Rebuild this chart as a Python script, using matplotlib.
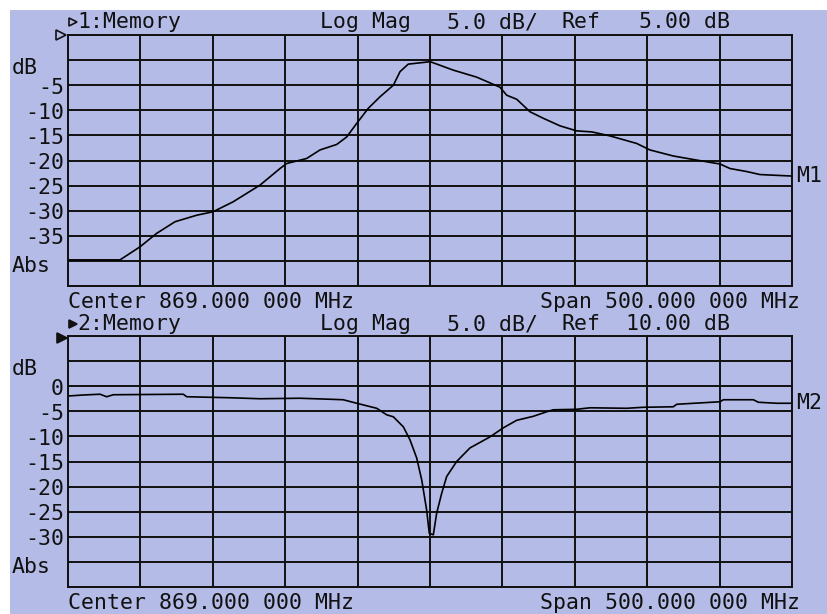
import numpy as np
import matplotlib
matplotlib.use('Agg')
import matplotlib.pyplot as plt
from matplotlib.transforms import blended_transform_factory

# Sweep settings (MHz)
center_mhz = 869.0
span_mhz = 500.0

# Channel 1 memory trace: frequency (MHz) and magnitude (dB)
freq1 = [619, 654.9, 668.7, 680.3, 692.9, 707.9, 719.3, 733.2, 751.6, 765.4,
         770.0, 783.8, 793.0, 804.6, 811.5, 818.4, 826.4, 834.5, 843.7, 848.3,
         854.0, 866.7, 869.0, 885.1, 901.3, 917.3, 922.0, 928.9, 938.1, 947.3,
         958.8, 970.3, 980.7, 993.3, 1011.7, 1020.9, 1037.0, 1050.8, 1069.3, 1076.2,
         1087.7, 1096.9, 1119]
mag1 = [-39.8, -39.8, -37.2, -34.5, -32.2, -30.9, -30.2, -28.2, -24.9, -21.6,
        -20.6, -19.6, -17.9, -16.8, -15.3, -12.6, -9.6, -7.3, -5.0, -2.3,
        -0.8, -0.4, -0.3, -2.0, -3.4, -5.4, -7.0, -7.8, -10.3, -11.6,
        -13.1, -14.1, -14.3, -15.1, -16.6, -17.9, -19.1, -19.8, -20.7, -21.6,
        -22.2, -22.8, -23.1]

# Channel 2 memory trace
freq2 = [619.2, 629.6, 641.1, 645.7, 650.3, 698.6, 701.0, 730.9, 751.6, 779.2,
         799.9, 809.1, 818.4, 832.2, 839.1, 843.7, 850.6, 855.2, 859.8, 863.3,
         866.7, 868.5, 871.3, 873.6, 877.1, 880.5, 887.4, 896.6, 910.4, 919.6,
         928.8, 940.3, 949.5, 954.1, 970.3, 979.5, 1004.8, 1016.3, 1037.0, 1039.4,
         1069.3, 1071.6, 1092.3, 1095.8, 1108.5, 1118.8]
mag2 = [-1.95, -1.75, -1.6, -2.1, -1.7, -1.6, -2.1, -2.3, -2.5, -2.4,
        -2.6, -2.7, -3.4, -4.4, -5.7, -6.1, -8.1, -10.7, -14.3, -18.7,
        -24.7, -29.3, -29.6, -25.3, -21.3, -18.0, -15.0, -12.3, -10.1, -8.3,
        -6.8, -6.0, -5.1, -4.7, -4.6, -4.3, -4.4, -4.2, -4.1, -3.6,
        -3.1, -2.7, -2.7, -3.2, -3.4, -3.4]

# Per-channel scale settings
ref1, ref2 = 5.0, 10.0
scale_db = 5.0
ylabels1 = {0: 'dB', -5: '-5', -10: '-10', -15: '-15', -20: '-20',
            -25: '-25', -30: '-30', -35: '-35', -40: 'Abs'}
ylabels2 = {5: 'dB', 0: '0', -5: '-5', -10: '-10', -15: '-15',
            -20: '-20', -25: '-25', -30: '-30', -35: 'Abs'}

BG = '#b4bbe6'
INK = '#111111'
FONT = 'DejaVu Sans Mono'
FS = 15.5


def setup_panel(ax, ref):
    start = center_mhz - span_mhz / 2
    stop = center_mhz + span_mhz / 2
    ax.set_xlim(start, stop)
    ax.set_ylim(ref - 10 * scale_db, ref)
    ax.set_xticks(np.linspace(start, stop, 11))
    ax.set_yticks(np.arange(ref - 10 * scale_db, ref + 1, scale_db))
    ax.grid(True, color=INK, lw=1.4)
    ax.tick_params(length=0, labelbottom=False, labelleft=False)
    ax.set_facecolor('none')
    for s in ax.spines.values():
        s.set_color(INK)
        s.set_linewidth(1.4)


def draw_ylabels(fig, ax, labels):
    tr = blended_transform_factory(fig.transFigure, ax.transData)
    for val, txt in labels.items():
        if txt in ('dB', 'Abs'):
            off = 2.8 if txt == 'dB' else 2.3
            ax.text(12 / 828, val - off, txt, transform=tr, ha='left', va='baseline',
                    family=FONT, fontsize=FS, color=INK)
        else:
            ax.text(64 / 828, val - 1.7, txt, transform=tr, ha='right', va='baseline',
                    family=FONT, fontsize=FS, color=INK)


def draw_header(ov, y_base, chan, ref_text, filled):
    kw = dict(family=FONT, fontsize=FS, color=INK, va='baseline', ha='left')
    ov.plot([73], [y_base - 6], marker='>', ms=6, mec=INK, mew=1.2,
            mfc=INK if filled else 'none', clip_on=False)
    ov.text(77, y_base, f'{chan}:Memory', **kw)
    ov.text(320, y_base, 'Log Mag', **kw)
    ov.text(447, y_base, f'{scale_db:.1f} dB/', **kw)
    ov.text(562, y_base, 'Ref', **kw)
    ov.text(730, y_base, ref_text, family=FONT, fontsize=FS, color=INK,
            va='baseline', ha='right')


def draw_footer(ov, y_base):
    kw = dict(family=FONT, fontsize=FS, color=INK, va='baseline')
    ov.text(68, y_base, f'Center {center_mhz:.3f} 000 MHz', ha='left', **kw)
    ov.text(800, y_base, f'Span {span_mhz:.3f} 000 MHz', ha='right', **kw)


def main(output_file='out.png'):
    fig = plt.figure(figsize=(8.28, 6.14), dpi=100, facecolor='white')

    # Full-figure overlay in pixel units for the screen background and annotations
    ov = fig.add_axes([0, 0, 1, 1], zorder=0)
    ov.set_xlim(0, 828)
    ov.set_ylim(614, 0)
    ov.axis('off')
    ov.add_patch(plt.Rectangle((10, 10), 818, 604, color=BG, lw=0))

    ax1 = fig.add_axes([68 / 828, 1 - 286 / 614, 724 / 828, 251 / 614], zorder=1)
    ax2 = fig.add_axes([68 / 828, 1 - 587 / 614, 724 / 828, 251 / 614], zorder=1)

    setup_panel(ax1, ref1)
    setup_panel(ax2, ref2)

    ax1.plot(freq1, mag1, color='black', lw=1.2, clip_on=False)
    ax2.plot(freq2, mag2, color='black', lw=1.2, clip_on=False)

    draw_ylabels(fig, ax1, ylabels1)
    draw_ylabels(fig, ax2, ylabels2)

    # Marker labels at the end of each trace
    ax1.annotate('M1', (freq1[-1], mag1[-1]), xytext=(3, 0), textcoords='offset points',
                 va='center', ha='left', family=FONT, fontsize=FS, color=INK,
                 annotation_clip=False)
    ax2.annotate('M2', (freq2[-1], mag2[-1]), xytext=(3, 0), textcoords='offset points',
                 va='center', ha='left', family=FONT, fontsize=FS, color=INK,
                 annotation_clip=False)

    # Reference position arrows at the left edge
    ov.plot([61], [35], marker='>', ms=7, mec=INK, mfc='none', mew=1.2)
    ov.plot([62], [338], marker='>', ms=7, mec=INK, mfc=INK, mew=1.2)

    draw_header(ov, 28, 1, f'{ref1:.2f} dB', filled=False)
    draw_header(ov, 330, 2, f'{ref2:.2f} dB', filled=True)
    draw_footer(ov, 308)
    draw_footer(ov, 609)

    fig.savefig(output_file, dpi=100)
    plt.close(fig)


if __name__ == "__main__":
    main()
